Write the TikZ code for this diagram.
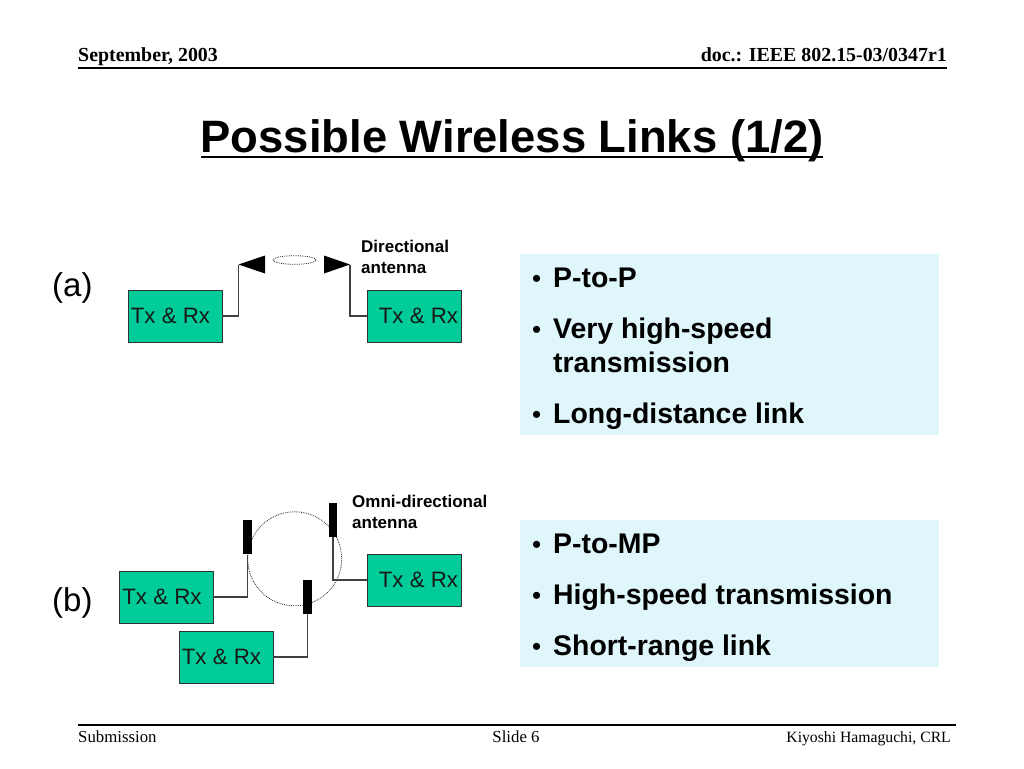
\documentclass[tikz,border=0pt]{standalone}
\usepackage{fontspec}
\usetikzlibrary{shapes.geometric}
\setmainfont{Liberation Sans}
\newfontfamily\timesf{Liberation Serif}
\newcommand{\fsz}[1]{\fontsize{#1}{#1}\selectfont}
\definecolor{boxgreen}{HTML}{00CC99}
\definecolor{panelblue}{HTML}{DFF6FB}
\tikzset{
  x=1pt,y=-1pt,
  txrx/.style={draw=black!80,line width=0.9pt,fill=boxgreen,minimum width=94pt,minimum height=52pt,inner sep=0pt},
  txrxlabel/.style={font=\fsz{22.3},text=black!90,inner sep=0pt,anchor=center},
  ant/.style={fill=black,draw=none,minimum width=8.4pt,minimum height=34pt,inner sep=0pt},
  wire/.style={draw=black!75,line width=1.15pt},
  beam/.style={draw=black!85,line width=0.8pt,densely dotted,inner sep=0pt},
  panel/.style={fill=panelblue,draw=none,inner sep=0pt},
  bullet/.style={font=\fsz{28.4}\bfseries,anchor=base west,inner sep=0pt,align=left},
  bulletdot/.style={font=\fsz{26},anchor=base west,inner sep=0pt},
  note/.style={font=\fsz{17}\bfseries,anchor=base west,inner sep=0pt},
  hdr/.style={font=\timesf\fsz{19.9}\bfseries,inner sep=0pt},
  ftr/.style={font=\timesf\fsz{16.8},inner sep=0pt},
  ftrname/.style={font=\timesf\fsz{15.7},inner sep=0pt},
  rulel/.style={draw=black,line width=1.4pt},
  sublabel/.style={font=\fsz{33},anchor=base west,inner sep=0pt}
}
\begin{document}
\begin{tikzpicture}
\useasboundingbox[fill=white] (0,0) rectangle (1024,768);
% header / footer
\node[hdr,anchor=base west] (hl) at (78,61) {September, 2003};
\node[hdr,anchor=base east] (hr) at (947,61) {doc.: IEEE 802.15-03/0347r1};
\coordinate (h1) at (78,68); \coordinate (h2) at (947,68);
\draw[rulel] (h1) -- (h2);
\coordinate (f1) at (78,725); \coordinate (f2) at (956,725);
\draw[rulel] (f1) -- (f2);
\node[ftr,anchor=base west] (fl) at (78,742) {Submission};
\node[ftr,anchor=base] (fm) at (516,742) {Slide 6};
\node[ftrname,anchor=base east] (fr) at (951,742) {Kiyoshi Hamaguchi, CRL};
% title
\node[font=\fsz{45.4}\bfseries,anchor=base,inner sep=0pt] (title) at (512,152) {Possible Wireless Links (1/2)};
\coordinate (t1) at (201,157); \coordinate (t2) at (823,157);
\draw[black,line width=2.8pt] (t1) -- (t2);
% labels
\node[sublabel] (la) at (52,296) {(a)};
\node[sublabel] (lb) at (52,611) {(b)};
% panels
\node[panel,minimum width=419pt,minimum height=181pt] (p1) at (729.5,344.5) {};
\node[panel,minimum width=419pt,minimum height=147pt] (p2) at (729.5,593.5) {};
\node[bulletdot] (p1a) at (532,287) {•}; \node[bullet] (p1at) at (553,287) {P-to-P};
\node[bulletdot] (p1b) at (532,338) {•}; \node[bullet] (p1bt) at (553,338) {Very high-speed};
\node[bullet] (p1bu) at (553,372) {transmission};
\node[bulletdot] (p1c) at (532,423) {•}; \node[bullet] (p1ct) at (553,423) {Long-distance link};
\node[bulletdot] (p2a) at (532,553) {•}; \node[bullet] (p2at) at (553,553) {P-to-MP};
\node[bulletdot] (p2b) at (532,604) {•}; \node[bullet] (p2bt) at (553,604) {High-speed transmission};
\node[bulletdot] (p2c) at (532,655) {•}; \node[bullet] (p2ct) at (553,655) {Short-range link};
% (a)
\node[txrx] (a1) at (175,316) {};
\node[txrx] (a2) at (414,316) {};
\node[txrxlabel] (a1t) at (170.5,315.5) {Tx \& Rx};
\node[txrxlabel] (a2t) at (418.5,315.5) {Tx \& Rx};
\coordinate (ta1) at (238.5,264.5); \coordinate (ta2) at (350,264.5);
\fill[black] (ta1) -- (265,255.5) -- (265,273.5) -- cycle;
\fill[black] (ta2) -- (324,255.5) -- (324,273.5) -- cycle;
\draw[wire] (a1.east) -| (ta1);
\draw[wire] (a2.west) -| (ta2);
\node[beam,ellipse,minimum width=43pt,minimum height=8.6pt] (ea) at (294.5,260) {};
\node[note] (na1) at (361,252) {Directional};
\node[note] (na2) at (361,273) {antenna};
% (b)
\node[beam,circle,minimum size=94pt] (cb) at (294.7,558.8) {};
\node[txrx] (b1) at (166,597) {};
\node[txrx] (b2) at (226,657) {};
\node[txrx] (b3) at (414,580) {};
\node[txrxlabel] (b1t) at (162,597) {Tx \& Rx};
\node[txrxlabel] (b2t) at (221.5,656.5) {Tx \& Rx};
\node[txrxlabel] (b3t) at (418.5,579.5) {Tx \& Rx};
\node[ant] (c1) at (247.5,537.4) {};
\node[ant] (c2) at (333,520) {};
\node[ant] (c3) at (307.3,597) {};
\draw[wire] (b1.east) -| (c1.south);
\draw[wire] (b3.west) -| (c2.south);
\draw[wire] (b2.east) -| (c3.south);
\node[note] (nb1) at (352,507) {Omni-directional};
\node[note] (nb2) at (352,528) {antenna};
\end{tikzpicture}
\end{document}
